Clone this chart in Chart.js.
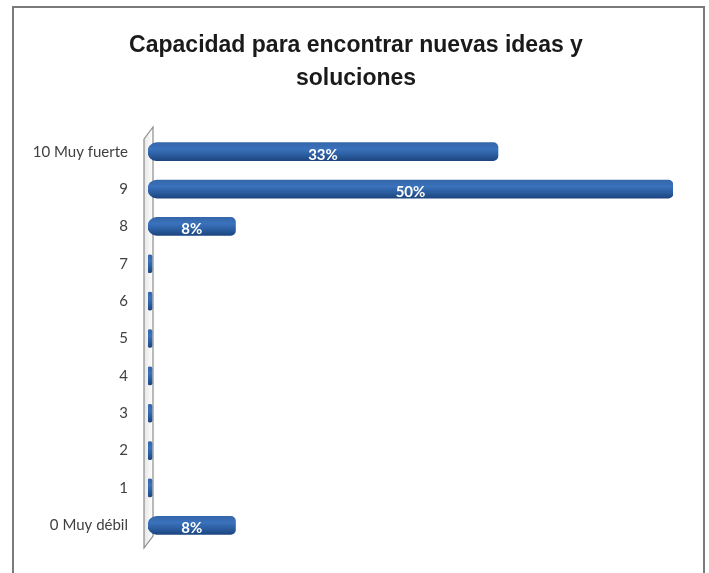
<!DOCTYPE html>
<html>
<head>
<meta charset="utf-8">
<script src="https://cdn.jsdelivr.net/npm/chart.js@4.4.1/dist/chart.umd.min.js"></script>
<style>
  html, body { margin: 0; padding: 0; background: #fff; }
  #wrap { width: 709px; height: 573px; position: relative; }
</style>
</head>
<body>
<div id="wrap"><canvas id="chart" width="709" height="573"></canvas></div>
<script>
// data
const titleLines = ['Capacidad para encontrar nuevas ideas y', 'soluciones'];
const categories = ['10 Muy fuerte', '9', '8', '7', '6', '5', '4', '3', '2', '1', '0 Muy débil'];
const values = [33.33, 50, 8.33, 0, 0, 0, 0, 0, 0, 0, 8.33];
const valueLabels = ['33%', '50%', '8%', '', '', '', '', '', '', '', '8%'];

function barFill(context) {
  const chart = context.chart;
  const yScale = chart.scales.y;
  if (!chart.chartArea || !yScale) return '#2c5fa3';
  const y = yScale.getPixelForValue(context.dataIndex);
  const g = chart.ctx.createLinearGradient(0, y - 9, 0, y + 9);
  g.addColorStop(0, '#3566aa');
  g.addColorStop(0.35, '#3a72bc');
  g.addColorStop(0.7, '#2a5c9e');
  g.addColorStop(1, '#1d4580');
  return g;
}

// frame around the whole picture + white background + title
const framePlugin = {
  id: 'frame',
  beforeDraw(chart) {
    const ctx = chart.ctx;
    ctx.save();
    ctx.fillStyle = '#fff';
    ctx.fillRect(0, 0, chart.width, chart.height);
    ctx.strokeStyle = '#7a7a7a';
    ctx.lineWidth = 2;
    ctx.beginPath();
    ctx.moveTo(13, chart.height);
    ctx.lineTo(13, 7);
    ctx.lineTo(704, 7);
    ctx.lineTo(704, chart.height);
    ctx.stroke();

    ctx.fillStyle = '#1a1a1a';
    ctx.font = 'bold 23px "Liberation Sans", Arial, sans-serif';
    ctx.textAlign = 'center';
    ctx.textBaseline = 'middle';
    titleLines.forEach((t, i) => ctx.fillText(t, 356, 46 + i * 33));
    ctx.restore();
  }
};

// thin 3D wall behind the bars
const wallPlugin = {
  id: 'wall',
  beforeDatasetsDraw(chart) {
    const a = chart.chartArea;
    const ctx = chart.ctx;
    const x0 = a.left - 4, x1 = a.left + 5;
    ctx.save();
    ctx.beginPath();
    ctx.moveTo(x0, a.top + 6);
    ctx.lineTo(x1, a.top - 6);
    ctx.lineTo(x1, a.bottom - 8);
    ctx.lineTo(x0, a.bottom + 4);
    ctx.closePath();
    const g = ctx.createLinearGradient(x0, 0, x1, 0);
    g.addColorStop(0, '#e6e6e6');
    g.addColorStop(1, '#ffffff');
    ctx.fillStyle = g;
    ctx.fill();
    ctx.strokeStyle = '#8c8c8c';
    ctx.lineWidth = 1.2;
    ctx.stroke();
    ctx.restore();
  }
};

const valueLabelPlugin = {
  id: 'valueLabels',
  afterDatasetsDraw(chart) {
    const ctx = chart.ctx;
    const meta = chart.getDatasetMeta(0);
    ctx.save();
    ctx.fillStyle = '#ffffff';
    ctx.font = 'bold 15px Lato, "Liberation Sans", sans-serif';
    ctx.textAlign = 'center';
    ctx.textBaseline = 'middle';
    meta.data.forEach((bar, i) => {
      if (!valueLabels[i]) return;
      const cx = (bar.base + bar.x) / 2;
      ctx.fillText(valueLabels[i], cx, bar.y + 3);
    });
    ctx.restore();
  }
};

new Chart(document.getElementById('chart'), {
  type: 'bar',
  data: {
    labels: categories,
    datasets: [{
      data: values,
      backgroundColor: barFill,
      borderWidth: 0,
      barThickness: 18,
      minBarLength: 4,
      borderSkipped: false,
      borderRadius: { topLeft: 9, bottomLeft: 9, topRight: 5, bottomRight: 5 }
    }]
  },
  options: {
    indexAxis: 'y',
    responsive: false,
    animation: false,
    layout: { padding: { left: 0, right: 36, top: 133, bottom: 24 } },
    plugins: {
      legend: { display: false },
      tooltip: { enabled: false },
      title: { display: false }
    },
    scales: {
      x: {
        display: false,
        min: 0,
        max: 50
      },
      y: {
        afterFit(scale) { scale.width = 148; },
        grid: { display: false, drawTicks: false },
        border: { display: false },
        ticks: {
          padding: 20,
          color: '#404040',
          font: { family: 'Lato, "Liberation Sans", sans-serif', size: 15 }
        }
      }
    }
  },
  plugins: [framePlugin, wallPlugin, valueLabelPlugin]
});
</script>
</body>
</html>
